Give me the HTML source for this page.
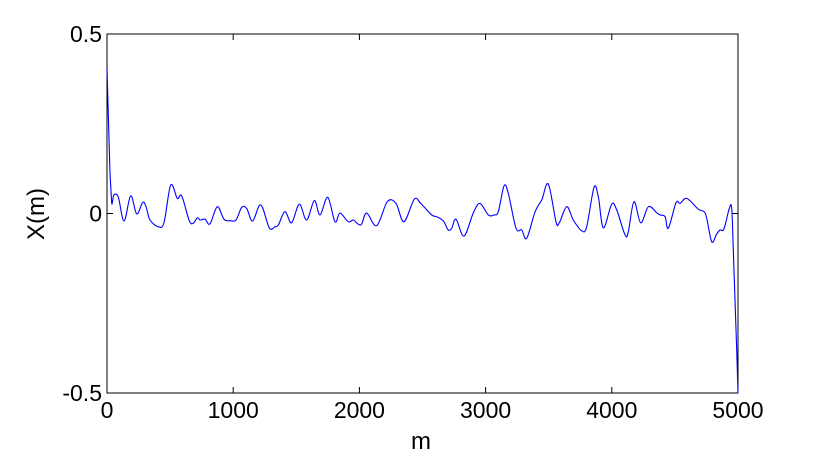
<!DOCTYPE html>
<html><head><meta charset="utf-8"><style>
html,body{margin:0;padding:0;background:#fff;}
svg{display:block;font-family:"Liberation Sans",Arial,sans-serif;}
</style></head><body>
<svg id="chart" width="815" height="459" viewBox="0 0 815 459">
<rect x="0" y="0" width="815" height="459" fill="#fff"/>
<g id="axes"></g>
<path id="series" fill="none" stroke="#0000ff" stroke-width="1.1" stroke-linejoin="round"/>
<text x="421" y="449" font-size="24" text-anchor="middle">m</text>
<text transform="translate(44,214) rotate(-90)" font-size="24" text-anchor="middle">X(m)</text>
</svg>
<script>
const xs=[0,24,37,55,90,135,188,235,283,309,341,407,452,505,557,592,652,684,716,737,777,816,874,927,975,1022,1067,1107,1154,1218,1286,1331,1358,1410,1463,1524,1582,1643,1688,1749,1807,1846,1912,1952,1992,2018,2058,2137,2221,2290,2353,2435,2486,2573,2612,2665,2704,2731,2766,2829,2903,2956,3021,3067,3101,3146,3180,3241,3286,3326,3392,3445,3497,3558,3584,3643,3695,3761,3801,3859,3893,3933,3999,4039,4105,4131,4176,4229,4290,4356,4382,4422,4448,4509,4541,4594,4686,4731,4752,4792,4831,4858,4889,4931,4950,4963,4990,5000];
const ys=[0.405,0.112,0.028,0.052,0.045,-0.021,0.049,-0.001,0.031,0.019,-0.018,-0.037,-0.025,0.079,0.042,0.049,-0.020,-0.027,-0.012,-0.018,-0.016,-0.029,0.019,-0.016,-0.020,-0.018,0.017,0.014,-0.021,0.024,-0.040,-0.037,-0.032,0.005,-0.026,0.026,-0.018,0.036,-0.004,0.045,-0.023,0.001,-0.023,-0.018,-0.030,-0.029,0.001,-0.034,0.033,0.028,-0.023,0.040,0.028,-0.004,-0.009,-0.021,-0.046,-0.041,-0.016,-0.063,0.002,0.028,-0.004,-0.004,0.005,0.077,0.056,-0.041,-0.046,-0.069,0.005,0.038,0.082,-0.023,-0.026,0.019,-0.018,-0.048,-0.037,0.073,0.047,-0.040,0.026,0.010,-0.060,-0.051,0.033,-0.026,0.019,0.002,-0.004,-0.009,-0.041,0.030,0.028,0.042,0.012,0.005,-0.013,-0.079,-0.057,-0.046,-0.043,0.014,0.014,-0.102,-0.38,-0.5];
const xTicks=[0,1000,2000,3000,4000,5000];
const yTicks=[-0.5,0,0.5];
const L=107,R=738,T=34,B=393;
const sx=v=>L+(v-0)/(5000-0)*(R-L);
const sy=v=>B-(v+0.5)/1.0*(B-T);
const NS='http://www.w3.org/2000/svg';
const ax=document.getElementById('axes');
function mk(t,a){const e=document.createElementNS(NS,t);for(const k in a)e.setAttribute(k,a[k]);return e;}
const frame=mk('rect',{x:L,y:T,width:R-L,height:B-T,fill:'none',stroke:'#000','stroke-width':1});


ax.appendChild(frame);
xTicks.forEach(v=>{
  const x=sx(v);
  ax.appendChild(mk('line',{x1:x,y1:B,x2:x,y2:B-6,stroke:'#000'}));
  ax.appendChild(mk('line',{x1:x,y1:T,x2:x,y2:T+6,stroke:'#000'}));
  const t=mk('text',{x:x,y:B+25,'font-size':23,'text-anchor':'middle'});
  t.textContent=v;
  
  
  ax.appendChild(t);
});
yTicks.forEach(v=>{
  const y=sy(v);
  ax.appendChild(mk('line',{x1:L,y1:y,x2:L+6,y2:y,stroke:'#000'}));
  ax.appendChild(mk('line',{x1:R,y1:y,x2:R-6,y2:y,stroke:'#000'}));
  const t=mk('text',{x:L-5,y:y+8,'font-size':23,'text-anchor':'end'});
  t.textContent=v;
  
  
  ax.appendChild(t);
});
const P=xs.map((m,i)=>[sx(m),sy(ys[i])]);
let d='M'+P[0][0].toFixed(1)+','+P[0][1].toFixed(1);
for(let i=0;i<P.length-1;i++){
  const p0=P[Math.max(0,i-1)],p1=P[i],p2=P[i+1],p3=P[Math.min(P.length-1,i+2)];
  const k=(i<2||i>P.length-4)?0:1/6;
  const c1=[p1[0]+(p2[0]-p0[0])*k,p1[1]+(p2[1]-p0[1])*k];
  const c2=[p2[0]-(p3[0]-p1[0])*k,p2[1]-(p3[1]-p1[1])*k];
  d+=' C'+c1.map(n=>n.toFixed(1)).join(',')+' '+c2.map(n=>n.toFixed(1)).join(',')+' '+p2[0].toFixed(1)+','+p2[1].toFixed(1);
}
document.getElementById('series').setAttribute('d',d);
</script>
</body></html>
